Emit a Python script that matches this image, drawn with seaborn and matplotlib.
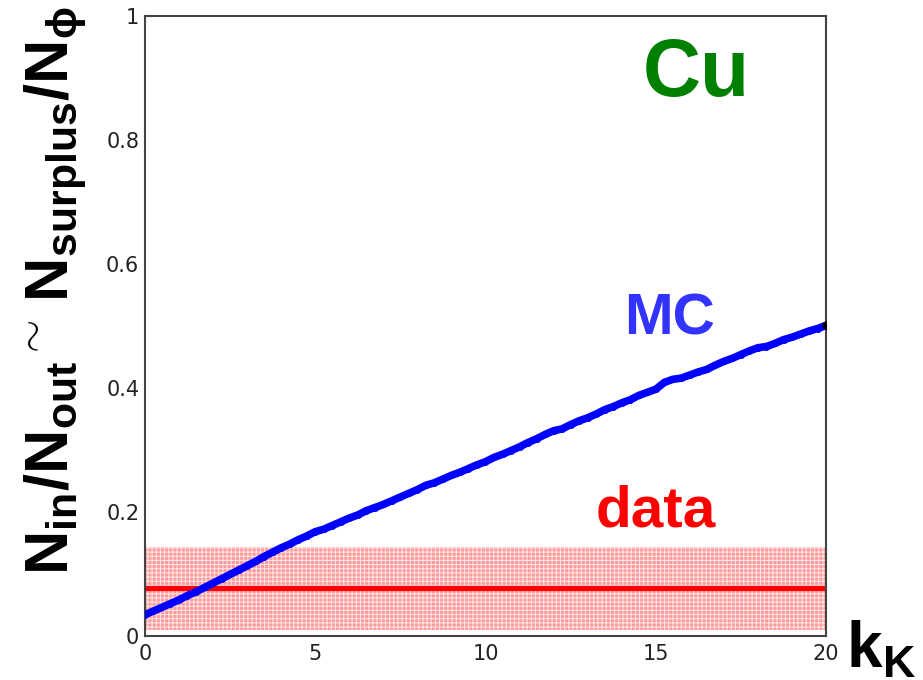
import matplotlib
matplotlib.use("Agg")
import matplotlib.pyplot as plt
import numpy as np
import pandas as pd
import seaborn as sns

# MC prediction of the in/out ratio versus k_K
k_values = [
    0.0, 0.25, 0.5, 0.75, 1.0, 1.25, 1.5, 1.75, 2.0, 2.25, 2.5, 2.75, 3.0, 3.25, 3.5, 3.75,
    4.0, 4.25, 4.5, 4.75, 5.0, 5.25, 5.5, 5.75, 6.0, 6.25, 6.5, 6.75, 7.0, 7.25, 7.5, 7.75,
    8.0, 8.25, 8.5, 8.75, 9.0, 9.25, 9.5, 9.75, 10.0, 10.25, 10.5, 10.75, 11.0, 11.25, 11.5,
    11.75, 12.0, 12.25, 12.5, 12.75, 13.0, 13.25, 13.5, 13.75, 14.0, 14.25, 14.5, 14.75, 15.0,
    15.25, 15.5, 15.75, 16.0, 16.25, 16.5, 16.75, 17.0, 17.25, 17.5, 17.75, 18.0, 18.25, 18.5,
    18.75, 19.0, 19.25, 19.5, 19.75, 20.0,
]
mc_ratio = [
    0.034, 0.040, 0.046, 0.052, 0.058, 0.065, 0.071, 0.078, 0.085, 0.092, 0.099, 0.106, 0.113,
    0.120, 0.128, 0.135, 0.142, 0.148, 0.155, 0.161, 0.168, 0.172, 0.178, 0.184, 0.190, 0.195,
    0.202, 0.207, 0.212, 0.218, 0.224, 0.230, 0.236, 0.243, 0.247, 0.253, 0.259, 0.264, 0.270,
    0.276, 0.281, 0.288, 0.293, 0.299, 0.305, 0.312, 0.318, 0.325, 0.331, 0.334, 0.341, 0.347,
    0.352, 0.358, 0.365, 0.370, 0.376, 0.381, 0.388, 0.393, 0.398, 0.409, 0.414, 0.416, 0.421,
    0.426, 0.430, 0.437, 0.443, 0.448, 0.454, 0.460, 0.465, 0.467, 0.472, 0.478, 0.482, 0.487,
    0.492, 0.496, 0.501,
]

# Measured value and its uncertainty band
data_value = 0.077
data_error = 0.067
k_range = [0.0, 20.0]

x_ticks = [0, 5, 10, 15, 20]
y_ticks = [0, 0.2, 0.4, 0.6, 0.8, 1]
y_tick_labels = ["0", "0.2", "0.4", "0.6", "0.8", "1"]

sns.set_theme(style="white")
plt.rcParams["font.family"] = ["DejaVu Sans"]
plt.rcParams["mathtext.fontset"] = "custom"
plt.rcParams["mathtext.rm"] = "Liberation Sans:bold"
plt.rcParams["mathtext.bf"] = "Liberation Sans:bold"
plt.rcParams["mathtext.it"] = "Liberation Sans:bold"
plt.rcParams["hatch.color"] = "#fff0f0"
plt.rcParams["hatch.linewidth"] = 0.7

fig = plt.figure(figsize=(9.23, 6.80), dpi=100)
ax = fig.add_axes([0.157, 0.065, 0.738, 0.911])

# data band and central value
ax.fill_between(k_range, [data_value - data_error] * 2, [data_value + data_error] * 2,
                facecolor="#ff9090", edgecolor="#fff0f0", hatch="++++", linewidth=0,
                alpha=0.9, zorder=1)
ax.axhline(data_value, color="#ff0000", lw=3.8, zorder=2)

# MC curve
df = pd.DataFrame({"k": k_values, "ratio": mc_ratio})
sns.lineplot(data=df, x="k", y="ratio", ax=ax, color="#0000ff", lw=5.5,
             marker="o", markersize=5, markeredgewidth=0, zorder=3)
ax.plot([k_values[-1]], [mc_ratio[-1]], marker="o", color="black", markersize=5, zorder=4)

ax.set_xlim(0, 20)
ax.set_ylim(0, 1)
ax.set_xticks(x_ticks)
ax.set_xticklabels([str(t) for t in x_ticks])
ax.set_yticks(y_ticks)
ax.set_yticklabels(y_tick_labels)
ax.tick_params(axis="both", direction="in", length=10, width=1.3, color="#444444",
               labelsize=15, labelcolor="#222222", pad=4)
ax.tick_params(axis="x", pad=6)
for sp in ax.spines.values():
    sp.set_color("#444444")
    sp.set_linewidth(1.5)

ax.set_xlabel("")
ax.set_ylabel("")
fig.text(0.06, 0.572, r"$\mathbf{N_{in}/N_{out}}^{\sim}\,\mathbf{N_{surplus}/N_{\phi}}$",
         rotation=90, ha="center", va="center", fontsize=44, color="black")
fig.text(0.917, 0.045, r"$\mathbf{k_{K}}$", ha="left", va="center", fontsize=46, color="black")

ax.text(16.2, 0.905, "Cu", ha="center", va="center", fontsize=58, fontweight="bold",
        color="#008000", family="Liberation Sans")
ax.text(15.4, 0.51, "MC", ha="center", va="center", fontsize=42, fontweight="bold",
        color="#3333ff", family="Liberation Sans")
ax.text(15.0, 0.2, "data", ha="center", va="center", fontsize=42, fontweight="bold",
        color="#ff0000", family="Liberation Sans")

fig.savefig("out.png", dpi=100)
